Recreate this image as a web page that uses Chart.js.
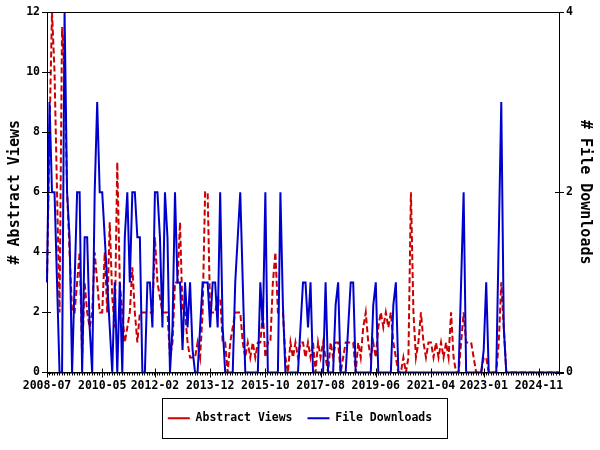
<!DOCTYPE html>
<html lang="en">
  <head>
    <meta charset="UTF-8" />
    <title>Abstract Views and File Downloads</title>
    <style>
      body { margin: 0; background: #fff; }
    </style>
  </head>

  <body>
    <canvas id="lienzo" width="600" height="450"></canvas>
    <script src="https://cdn.jsdelivr.net/npm/chart.js"></script>
    <script>
      // monthly series, first month is 2008-07
      const startYear = 2008;
      const startMonth = 7;

      const tickLabels = [
        "2008-07", "2010-05", "2012-02", "2013-12", "2015-10",
        "2017-08", "2019-06", "2021-04", "2023-01", "2024-11",
      ];

      const abstractViews = [
        3, 8, 12, 10, 6, 2, 11.5, 10, 6, 4,
        2, 2, 3, 4, 0.5, 3, 2, 1.5, 2, 4,
        3, 2, 2, 4, 2, 5, 2.5, 1.5, 7, 3,
        2, 1, 1.5, 2, 3.5, 2, 1, 2, 2, 2,
        2, 2, 2, 4.5, 3, 2.5, 2, 2, 2, 0.5,
        1, 3, 3, 5, 2, 2, 1, 0.5, 0.5, 0.5,
        1, 0.5, 2, 6, 6, 2, 2, 2, 2.5, 2.5,
        1, 1, 0, 1, 1.5, 2, 2, 2, 1, 0.5,
        1, 0.5, 1, 0.5, 1, 1, 2, 0.5, 1, 1,
        3, 4, 2, 2, 2, 0.5, 0, 1, 0.5, 1,
        0.5, 1, 1, 0.5, 1, 0.5, 1, 0, 1, 0.5,
        1, 0.5, 0, 1, 0.5, 1, 1, 0, 0.5, 1,
        1, 1, 1, 0, 1, 0.5, 1.5, 2, 1, 0.5,
        1, 0.5, 1.5, 2, 1.5, 2, 1.5, 2, 1, 0.5,
        0, 0, 0.5, 0, 0.5, 6, 2, 0.5, 1, 2,
        1, 0.5, 1, 1, 0.5, 1, 0.5, 1, 0.5, 1,
        0.5, 2, 0.5, 0, 0, 1, 2, 1, 1, 1,
        0.5, 0, 0, 0, 0.5, 0.5, 0, 0, 0, 0,
        1, 3, 1.5, 0, 0, 0, 0, 0, 0, 0,
        0, 0, 0, 0, 0, 0, 0, 0, 0, 0,
        0, 0, 0, 0, 0,
      ];

      const fileDownloads = [
        1, 3, 2, 2, 1, 0, 0, 4, 2, 1.5,
        0, 1, 2, 2, 0, 1.5, 1.5, 0.5, 0, 2,
        3, 2, 2, 1.5, 1, 0.5, 0, 1, 0, 1,
        0, 1.5, 2, 1, 2, 2, 1.5, 1.5, 0, 0,
        1, 1, 0.5, 2, 2, 1.5, 0.5, 2, 1.5, 0,
        0.5, 2, 1, 1, 0.25, 1, 0.5, 1, 0.25, 0,
        0, 0.5, 1, 1, 1, 0.5, 1, 1, 0.5, 2,
        0.5, 0, 0, 0, 0, 1, 1.5, 2, 1, 0,
        0, 0, 0, 0, 0, 1, 0.5, 2, 0, 0,
        0, 0, 0, 2, 0.75, 0, 0, 0, 0, 0,
        0, 0.5, 1, 1, 0.5, 1, 0, 0, 0, 0,
        0, 1, 0, 0, 0, 0.75, 1, 0, 0, 0,
        0.5, 1, 1, 0, 0, 0, 0, 0, 0, 0,
        0.75, 1, 0, 0, 0, 0, 0, 0, 0.75, 1,
        0, 0, 0, 0, 0, 0, 0, 0, 0, 0,
        0, 0, 0, 0, 0, 0, 0, 0, 0, 0,
        0, 0, 0, 0, 0, 1, 2, 0, 0, 0,
        0, 0, 0, 0, 0.25, 1, 0, 0, 0, 0,
        1.5, 3, 0.5, 0, 0, 0, 0, 0, 0, 0,
        0, 0, 0, 0, 0, 0, 0, 0, 0, 0,
        0, 0, 0, 0, 0,
      ];

      const months = abstractViews.map((v, i) => {
        const m = startMonth - 1 + i;
        const y = startYear + Math.floor(m / 12);
        return y + "-" + String((m % 12) + 1).padStart(2, "0");
      });

      Chart.defaults.font.family = "'DejaVu Sans Mono', monospace";
      Chart.defaults.font.weight = "bold";
      Chart.defaults.font.size = 11.5;
      Chart.defaults.color = "#000";

      // border round the plot, inner tick marks and the legend box
      const marco = {
        id: "marco",
        afterDraw(chart) {
          const ctx = chart.ctx;
          const a = chart.chartArea;
          ctx.save();
          ctx.strokeStyle = "#000";
          ctx.lineWidth = 1;
          ctx.strokeRect(a.left + 0.5, a.top + 0.5, a.right - a.left, a.bottom - a.top);

          ctx.beginPath();
          chart.scales.y.ticks.forEach((t) => {
            const py = Math.round(chart.scales.y.getPixelForValue(t.value)) + 0.5;
            ctx.moveTo(a.left, py);
            ctx.lineTo(a.left + 4, py);
          });
          chart.scales.y1.ticks.forEach((t) => {
            const py = Math.round(chart.scales.y1.getPixelForValue(t.value)) + 0.5;
            ctx.moveTo(a.right - 4, py);
            ctx.lineTo(a.right + 5, py);
          });
          months.forEach((lab, i) => {
            if (tickLabels.includes(lab)) {
              const px = Math.round(chart.scales.x.getPixelForValue(i)) + 0.5;
              ctx.moveTo(px, a.bottom - 4);
              ctx.lineTo(px, a.bottom + 5);
            }
          });
          ctx.stroke();

          const cajas = chart.legend.legendHitBoxes;
          if (cajas && cajas.length) {
            const izq = Math.min(...cajas.map((c) => c.left)) - 6;
            const der = Math.max(...cajas.map((c) => c.left + c.width)) + 15;
            const cy = cajas[0].top + cajas[0].height / 2;
            ctx.strokeRect(Math.round(izq) + 0.5, Math.round(cy - 20) + 0.5, Math.round(der - izq), 40);
          }
          ctx.restore();
        },
      };

      const contexto = document.querySelector("#lienzo");
      const grafico = new Chart(contexto, {
        type: "line",
        data: {
          labels: months,
          datasets: [
            {
              label: "File Downloads",
              data: fileDownloads,
              yAxisID: "y1",
              borderColor: "#0000cc",
              backgroundColor: "#0000cc",
              borderWidth: 2,
              pointRadius: 0,
              tension: 0,
            },
            {
              label: "Abstract Views",
              data: abstractViews,
              yAxisID: "y",
              borderColor: "#cc0000",
              backgroundColor: "#cc0000",
              borderWidth: 2,
              borderDash: [6, 3],
              pointRadius: 0,
              tension: 0,
            },
          ],
        },
        options: {
          responsive: false,
          animation: false,
          layout: { padding: { top: 12, bottom: 16, left: 0, right: 0 } },
          plugins: {
            tooltip: { enabled: false },
            legend: {
              position: "bottom",
              reverse: true,
              labels: {
                usePointStyle: true,
                pointStyle: "line",
                pointStyleWidth: 22,
                padding: 15,
                color: "#000",
                font: { size: 11.5, weight: "bold" },
              },
            },
          },
          scales: {
            x: {
              grid: { drawOnChartArea: false, tickLength: 3, color: "#000" },
              border: { color: "#000" },
              ticks: {
                autoSkip: false,
                maxRotation: 0,
                minRotation: 0,
                padding: 4,
                callback: function (value) {
                  const lab = this.getLabelForValue(value);
                  return tickLabels.includes(lab) ? lab : "";
                },
              },
              afterFit: (scale) => { scale.height = 25; },
            },
            y: {
              position: "left",
              min: 0,
              max: 12,
              ticks: { stepSize: 2, padding: 2 },
              grid: { drawOnChartArea: false, tickLength: 5, color: "#000" },
              border: { color: "#000" },
              title: {
                display: true,
                text: "# Abstract Views",
                font: { size: 15, weight: "bold" },
                padding: { top: 6, bottom: 0 },
              },
              afterFit: (scale) => { scale.width = 47; },
            },
            y1: {
              position: "right",
              min: 0,
              max: 4,
              ticks: { stepSize: 2, padding: 2 },
              grid: { drawOnChartArea: false, tickLength: 5, color: "#000" },
              border: { color: "#000" },
              title: {
                display: true,
                text: "# File Downloads",
                font: { size: 15, weight: "bold" },
                padding: { top: 6, bottom: 0 },
              },
              afterFit: (scale) => { scale.width = 41; },
            },
          },
        },
        plugins: [marco],
      });
    </script>
  </body>
</html>
